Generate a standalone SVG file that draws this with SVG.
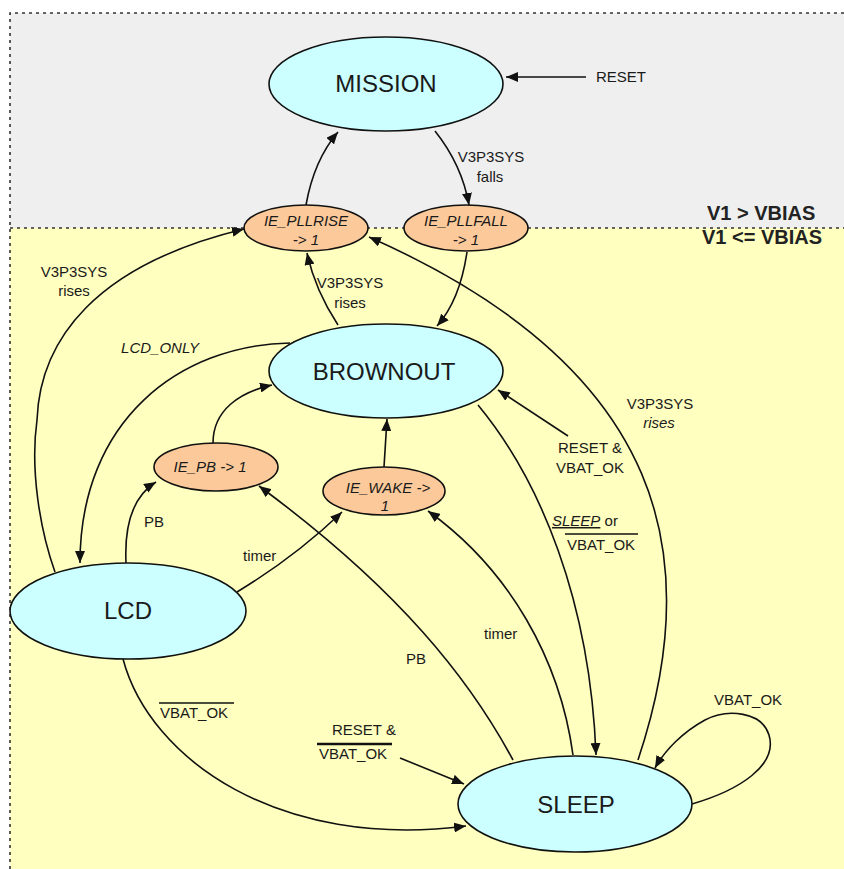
<svg xmlns="http://www.w3.org/2000/svg" width="844" height="869" viewBox="0 0 844 869">
<style>
.bd{fill:none;stroke:#333;stroke-width:1.6;stroke-dasharray:3,4}
.st{fill:#ccffff;stroke:#111;stroke-width:1.6}
.ie{fill:#fcca9a;stroke:#111;stroke-width:1.6}
.nt{font-family:"Liberation Sans",Arial,sans-serif;font-size:24px;fill:#1a1a1a;text-anchor:middle}
.it{font-family:"Liberation Sans",Arial,sans-serif;font-size:15px;font-style:italic;fill:#1a1a1a;text-anchor:middle}
.lb{font-family:"Liberation Sans",Arial,sans-serif;font-size:15px;fill:#1a1a1a}
.c{text-anchor:middle}
.rg{font-family:"Liberation Sans",Arial,sans-serif;font-size:20px;font-weight:bold;fill:#222}
.e{fill:none;stroke:#111;stroke-width:1.6;marker-end:url(#a)}
.ov{stroke:#111;stroke-width:1.3}
</style>
<defs>
<marker id="a" viewBox="0 0 12 10" refX="12" refY="5" markerWidth="12" markerHeight="10" orient="auto" markerUnits="userSpaceOnUse">
<path d="M0,0 L12,5 L0,10 z" fill="#111"/>
</marker>
</defs>
<rect x="0" y="0" width="844" height="869" fill="#ffffff"/>
<rect x="10" y="13" width="834" height="215" fill="#efefef"/>
<rect x="10" y="228" width="834" height="641" fill="#ffffc0"/>
<path class="bd" d="M10,869 L10,13 L844,13"/>
<path class="bd" d="M10,228 L844,228"/>
<text class="rg" x="707" y="220">V1 &gt; VBIAS</text>
<text class="rg" x="702" y="244">V1 &lt;= VBIAS</text>

<g id="connectors">
<path class="e" d="M586,77 L506,77"/>
<path class="e" d="M306,205 Q314,160 338,132"/>
<path class="e" d="M435,131 Q462,165 469,205"/>
<path class="e" d="M55,572 C 40,530 30,470 37,420 C 40,340 95,265 244,229"/>
<path class="e" d="M338,325 Q315,290 307,253"/>
<path class="e" d="M467,252 Q460,300 437,326"/>
<path class="e" d="M638,760 C 705,560 670,370 369,237"/>
<path class="e" d="M290,343 C 180,345 80,420 80,563"/>
<path class="e" d="M213,443 C 213,410 240,392 272,385"/>
<path class="e" d="M384,467 L387,419"/>
<path class="e" d="M126,563 C 124,520 135,495 156,482"/>
<path class="e" d="M237,592 Q295,557 342,512"/>
<path class="e" d="M513,760 C 470,680 400,590 259,486"/>
<path class="e" d="M573,755 C 560,660 510,570 428,511"/>
<path class="e" d="M478,405 C 540,480 590,600 596,755"/>
<path class="e" d="M568,436 L498,390"/>
<path class="e" d="M123,659 C 150,760 280,850 466,826"/>
<path class="e" d="M400,758 L464,784"/>
<path class="e" d="M692,804 C 740,790 778,765 769,735 C 762,712 728,708 705,720 C 683,732 665,750 655,768"/>

<text class="lb" x="596" y="82">RESET</text>
<text class="lb c" x="491" y="162">V3P3SYS</text>
<text class="lb c" x="490" y="182">falls</text>
<text class="lb c" x="74" y="277">V3P3SYS</text>
<text class="lb c" x="74" y="296">rises</text>
<text class="lb c" x="350" y="288">V3P3SYS</text>
<text class="lb c" x="350" y="308">rises</text>
<text class="lb c" x="660" y="409">V3P3SYS</text>
<text class="lb c" x="659" y="428" font-style="italic">rises</text>
<text class="it" x="160" y="353">LCD_ONLY</text>
<text class="lb c" x="590" y="453">RESET &amp;</text>
<text class="lb c" x="590" y="473">VBAT_OK</text>
<text class="lb" x="552" y="526"><tspan font-style="italic" text-decoration="underline">SLEEP</tspan> or</text>
<line class="ov" x1="565" y1="534" x2="638" y2="534"/>
<text class="lb" x="567" y="550">VBAT_OK</text>
<text class="lb c" x="154" y="527">PB</text>
<text class="lb" x="243" y="561">timer</text>
<text class="lb c" x="416" y="664">PB</text>
<text class="lb" x="484" y="639">timer</text>
<line class="ov" x1="159" y1="703" x2="234" y2="703"/>
<text class="lb" x="160" y="718">VBAT_OK</text>
<text class="lb" x="332" y="735">RESET &amp;</text>
<line stroke="#111" stroke-width="2.5" x1="317" y1="744" x2="392" y2="744"/>
<text class="lb" x="319" y="759">VBAT_OK</text>
<text class="lb" x="714" y="705">VBAT_OK</text>
</g>

<g id="MISSION">
<ellipse class="st" cx="386" cy="84" rx="117" ry="47"/>
<text class="nt" x="386" y="92">MISSION</text>
</g>
<g id="IE_PLLRISE">
<ellipse class="ie" cx="306" cy="228" rx="62" ry="23"/>
<text class="it" x="306" y="226">IE_PLLRISE</text>
<text class="it" x="306" y="245">-&gt; 1</text>
</g>
<g id="IE_PLLFALL">
<ellipse class="ie" cx="466" cy="228" rx="62" ry="23"/>
<text class="it" x="466" y="226">IE_PLLFALL</text>
<text class="it" x="466" y="245">-&gt; 1</text>
</g>
<g id="BROWNOUT">
<ellipse class="st" cx="386" cy="371" rx="117" ry="47"/>
<text class="nt" x="384" y="380">BROWNOUT</text>
</g>
<g id="IE_PB">
<ellipse class="ie" cx="216" cy="467" rx="62" ry="24"/>
<text class="it" x="210" y="472">IE_PB -&gt; 1</text>
</g>
<g id="IE_WAKE">
<ellipse class="ie" cx="384" cy="491" rx="61" ry="24"/>
<text class="it" x="388" y="493">IE_WAKE -&gt;</text>
<text class="it" x="385" y="511">1</text>
</g>
<g id="LCD">
<ellipse class="st" cx="128" cy="611" rx="118" ry="48"/>
<text class="nt" x="128" y="619">LCD</text>
</g>
<g id="SLEEP">
<ellipse class="st" cx="575" cy="804" rx="117" ry="48"/>
<text class="nt" x="576" y="813">SLEEP</text>
</g>
</svg>
